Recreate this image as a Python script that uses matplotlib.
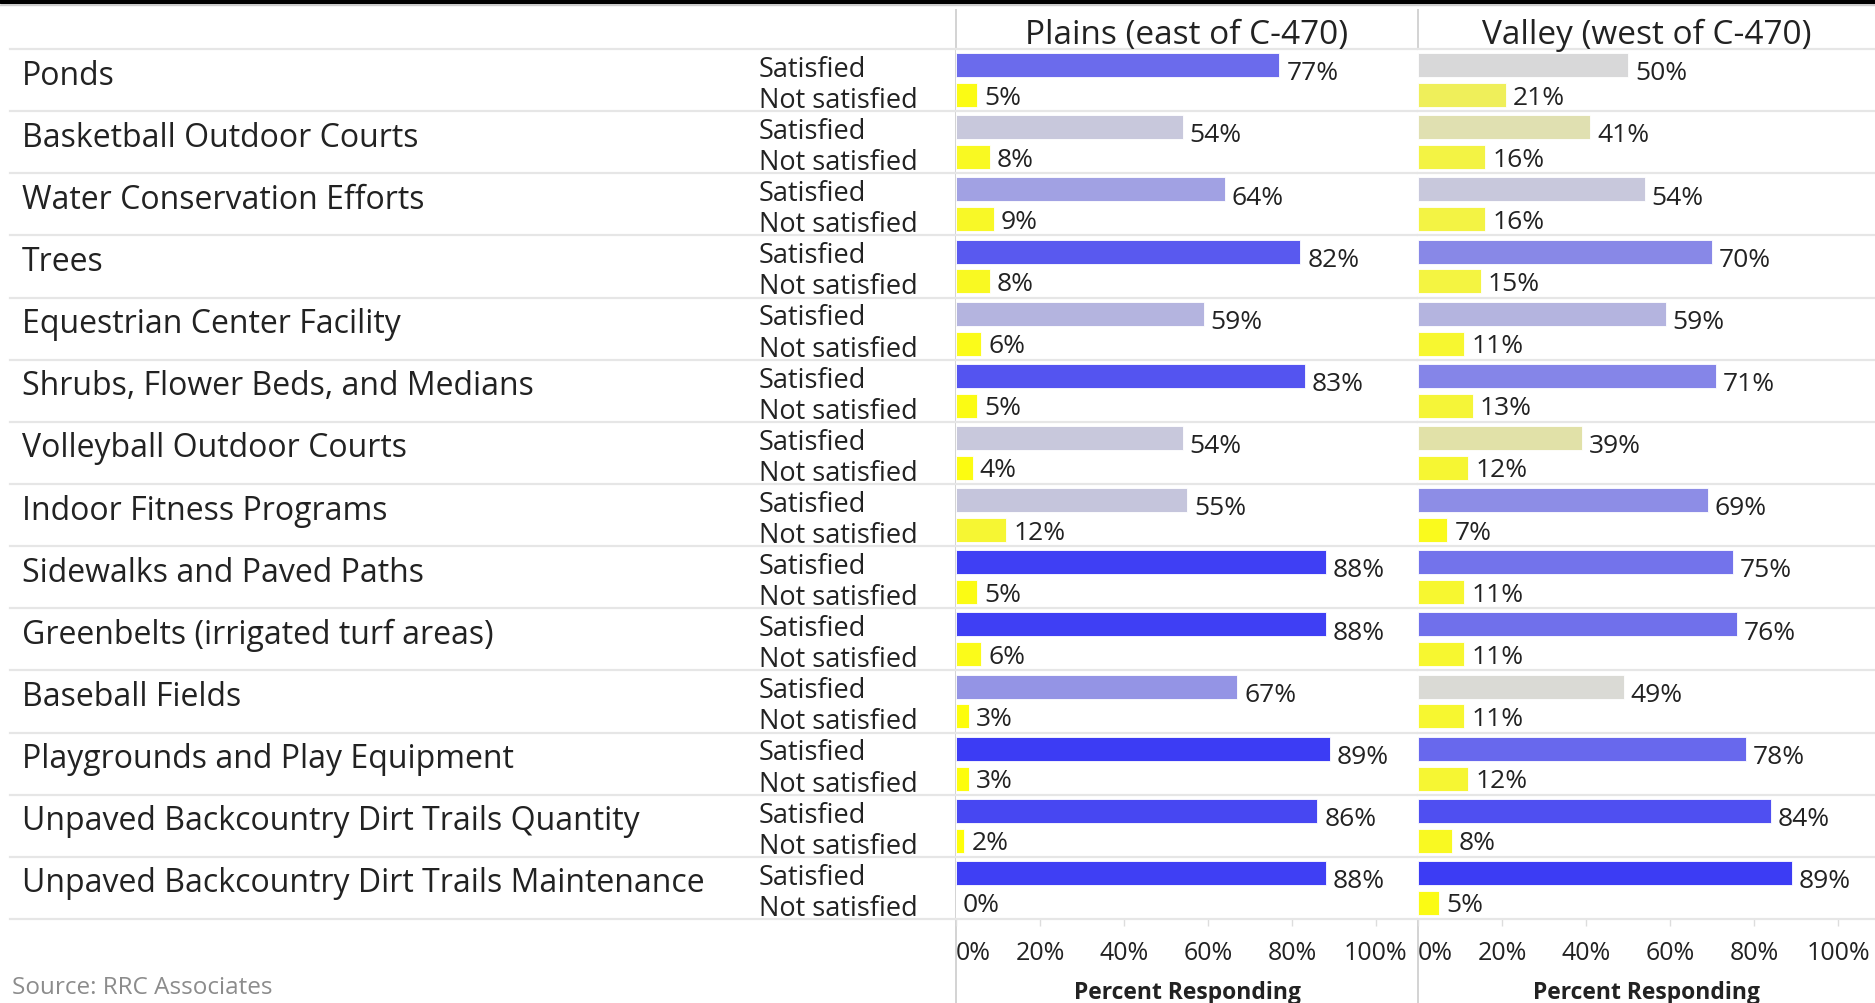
import matplotlib
matplotlib.use("Agg")
import matplotlib.pyplot as plt
from matplotlib.colors import LinearSegmentedColormap

plt.rcParams['font.family'] = ['Open Sans', 'DejaVu Sans']

categories = ["Ponds", "Basketball Outdoor Courts", "Water Conservation Efforts", "Trees",
              "Equestrian Center Facility", "Shrubs, Flower Beds, and Medians",
              "Volleyball Outdoor Courts", "Indoor Fitness Programs",
              "Sidewalks and Paved Paths", "Greenbelts (irrigated turf areas)",
              "Baseball Fields", "Playgrounds and Play Equipment",
              "Unpaved Backcountry Dirt Trails Quantity",
              "Unpaved Backcountry Dirt Trails Maintenance"]
responses = ["Satisfied", "Not satisfied"]
panels = ["Plains (east of C-470)", "Valley (west of C-470)"]
plains_sat = [77, 54, 64, 82, 59, 83, 54, 55, 88, 88, 67, 89, 86, 88]
plains_not = [5, 8, 9, 8, 6, 5, 4, 12, 5, 6, 3, 3, 2, 0]
valley_sat = [50, 41, 54, 70, 59, 71, 39, 69, 75, 76, 49, 78, 84, 89]
valley_not = [21, 16, 16, 15, 11, 13, 12, 7, 11, 11, 11, 12, 8, 5]
ticks = [0, 20, 40, 60, 80, 100]
tick_labels = ["0%", "20%", "40%", "60%", "80%", "100%"]

W, H = 1875, 1004
fig = plt.figure(figsize=(W / 100, H / 100), dpi=100)
fig.patch.set_facecolor("white")

cmap = LinearSegmentedColormap.from_list(
    "div", [(0, "#ffff00"), (0.5, "#d9d9d9"), (1, "#1010fc")])

line_c = "#e6e6e6"
text_c = "#222222"
n = len(categories)


def px_axes(x, y_top, w, h, **kw):
    return fig.add_axes([x / W, 1 - (y_top + h) / H, w / W, h / H], **kw)


# background: top band, panel dividers, source note
bg = px_axes(0, 0, W, H, zorder=-1)
bg.set_xlim(0, W)
bg.set_ylim(H, 0)
bg.axis("off")
bg.axhspan(0, 4, color="black")
bg.axhline(5.5, color="#cccccc", lw=1)
bg.vlines([956, 1418], 10, H, color="#d0d0d0", lw=1.3)
bg.text(12, 988, "Source: RRC Associates", fontsize=17.5, color="#8c8c8c", va="center")

# row labels
lab = px_axes(10, 50, 946, 870)
lab.set_xlim(0, 946)
lab.set_ylim(n, 0)
lab.axis("off")
for i, c in enumerate(categories):
    lab.text(12, i + 0.42, c, fontsize=23, color=text_c, va="center")
    lab.text(749, i + 0.32, responses[0], fontsize=19.5, color=text_c, va="center")
    lab.text(749, i + 0.82, responses[1], fontsize=19.5, color=text_c, va="center")
for i in range(n + 1):
    lab.axhline(i, color=line_c, lw=1.6, clip_on=False)

ax1 = px_axes(956, 50, 462, 870)
ax2 = px_axes(1418, 50, 457, 870)
ax1.set_xlim(0, 110)
ax2.set_xlim(0, 108.8)

for ax, title, sat, nots in [(ax1, panels[0], plains_sat, plains_not),
                             (ax2, panels[1], valley_sat, valley_not)]:
    ax.set_ylim(n, 0)
    ys = [i + 0.26 for i in range(n)]
    yn = [i + 0.74 for i in range(n)]
    ax.barh(ys, sat, height=0.385, color=[cmap(v / 100) for v in sat],
            edgecolor="white", linewidth=0.6)
    ax.barh(yn, nots, height=0.385, color=[cmap(v / 100) for v in nots],
            edgecolor="white", linewidth=0.6)
    for y, v in zip(ys, sat):
        ax.annotate(f"{v}%", (v, y), xytext=(5, -5.5), textcoords="offset points",
                    fontsize=19, color=text_c, va="center", ha="left")
    for y, v in zip(yn, nots):
        ax.annotate(f"{v}%", (v, y), xytext=(5, -1.5), textcoords="offset points",
                    fontsize=19, color=text_c, va="center", ha="left")
    for i in range(n + 1):
        ax.axhline(i, color=line_c, lw=1.6, clip_on=False)
    for s in ax.spines.values():
        s.set_visible(False)
    ax.set_yticks([])
    ax.set_xticks(ticks)
    ax.set_xticklabels(tick_labels)
    ax.tick_params(axis="x", length=5, color="#dddddd", width=1,
                   labelsize=18, labelcolor=text_c, pad=10)
    ax.get_xticklabels()[0].set_ha("left")
    ax.set_xlabel("Percent Responding", fontsize=16.5, fontweight="bold",
                  color=text_c, labelpad=11)
    ax.text(0.5, 1 + 15 / 870, title, transform=ax.transAxes, ha="center",
            va="center", fontsize=24, color=text_c)

fig.savefig("out.png", dpi=100, facecolor="white")
